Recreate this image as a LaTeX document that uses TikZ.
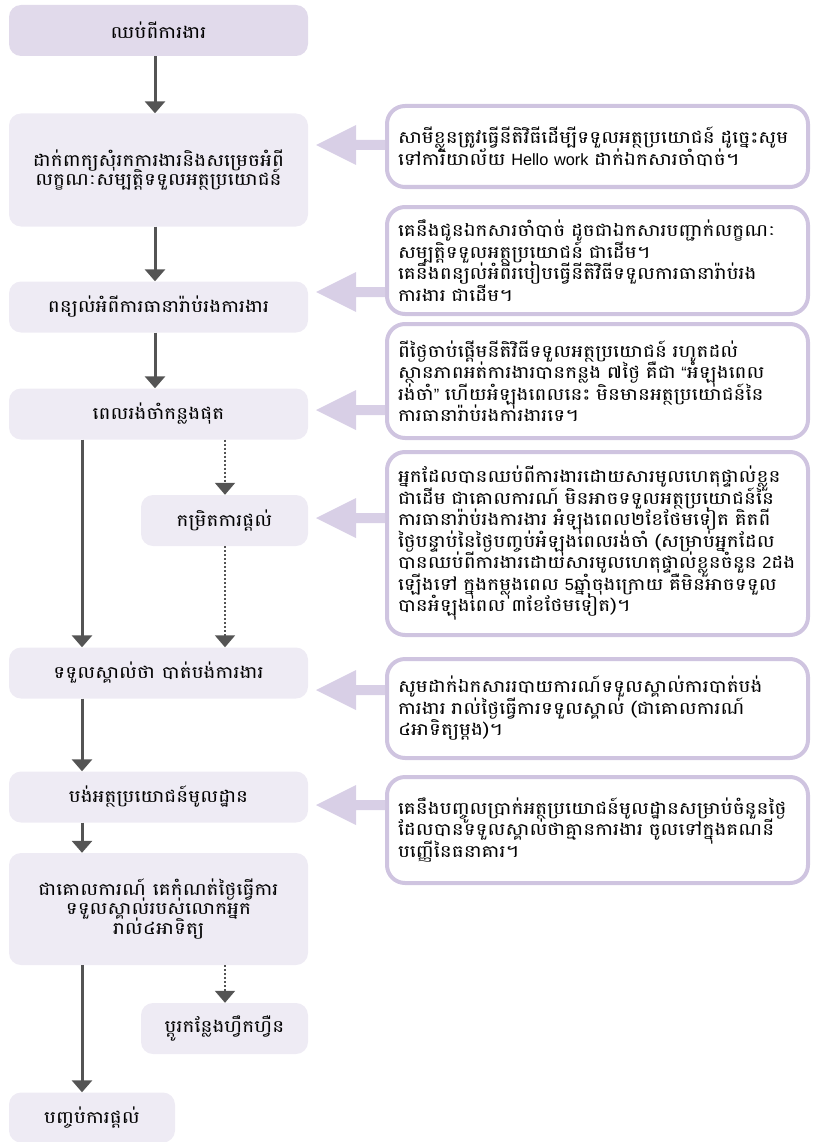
\documentclass[tikz,border=0pt]{standalone}
\usepackage{fontspec}
\usetikzlibrary{arrows.meta}
\usetikzlibrary{calc}
\newfontfamily\khmerfont[Script=Khmer, FakeStretch=1.18]{Battambang}
\newfontfamily\latinfont[Scale=0.96]{Liberation Sans}
\definecolor{pfeil}{RGB}{84,84,84}
\definecolor{stepdark}{RGB}{225,218,235}
\definecolor{steplight}{RGB}{238,235,244}
\definecolor{notebord}{RGB}{207,196,224}
\definecolor{pointer}{RGB}{216,207,230}

\tikzset{
  stepbox/.style={fill=steplight, rounded corners=12pt, minimum width=299pt, minimum height=51pt,
    align=center, inner xsep=4pt, inner ysep=0pt,
    font={\khmerfont\fontsize{17}{19.5}\selectfont\lineskiplimit=-100pt}},
  smallbox/.style={stepbox, minimum width=167pt},
  notebox/.style={draw=notebord, line width=4pt, fill=white, rounded corners=18pt, text width=399pt,
    inner xsep=11pt, inner ysep=0pt, align=left,
    font={\khmerfont\fontsize{17}{21.5}\selectfont\lineskiplimit=-100pt}},
  flow/.style={pfeil, line width=3pt, -{Triangle[width=20pt,length=12pt]}},
  maybe/.style={flow, line width=2pt, dash pattern=on 2pt off 2pt},
}

\begin{document}
\begin{tikzpicture}[x=1pt, y=-1pt]

    \useasboundingbox (0,0) rectangle (812,1142);

    % left column
    \node[stepbox, fill=stepdark] (quit) at (158.5,30.5) {ឈប់ពីការងារ};
    \node[stepbox, minimum height=113pt] (apply) at (158.5,170) {ដាក់ពាក្យសុំរកការងារនិងសម្រេចអំពី\\លក្ខណៈសម្បត្តិទទួលអត្ថប្រយោជន៍};
    \node[stepbox] (explain) at (158.5,307) {ពន្យល់អំពីការធានារ៉ាប់រងការងារ};
    \node[stepbox] (wait) at (158.5,414) {ពេលរង់ចាំកន្លងផុត};
    \node[smallbox] (limit) at (224.5,520.5) {កម្រិតការផ្តល់};
    \node[stepbox] (confirm) at (158.5,673) {ទទួលស្គាល់ថា បាត់បង់ការងារ};
    \node[stepbox] (pay) at (158.5,797) {បង់អត្ថប្រយោជន៍មូលដ្ឋាន};
    \node[stepbox, minimum height=112pt] (rule) at (158.5,909) {ជាគោលការណ៍ គេកំណត់ថ្ងៃធ្វើការ\\ទទួលស្គាល់របស់លោកអ្នក\\រាល់៤អាទិត្យ};
    \node[smallbox] (train) at (224.5,1028.5) {ប្តូរកន្លែងហ្វឹកហ្វឺន};
    \node[smallbox, minimum width=166pt, minimum height=50pt] (finish) at (92,1117.5) {បញ្ចប់ការផ្តល់};

    \coordinate (mid) at (155,0);
    \coordinate (left) at (82,0);
    \coordinate (right) at (225,0);

    \draw[flow] (quit.south -| mid) -- (apply.north -| mid);
    \draw[flow] (apply.south -| mid) -- (explain.north -| mid);
    \draw[flow] (explain.south -| mid) -- (wait.north -| mid);
    \draw[flow] (wait.south -| left) -- (confirm.north -| left);
    \draw[maybe] (wait.south -| right) -- (limit.north -| right);
    \draw[maybe] (limit.south -| right) -- (confirm.north -| right);
    \draw[flow] (confirm.south -| left) -- (pay.north -| left);
    \draw[flow] (pay.south -| left) -- (rule.north -| left);
    \draw[maybe] (rule.south -| right) -- (train.north -| right);
    \draw[flow] (rule.south -| left) -- (finish.north -| left);

    % notes on the right
    \node[notebox, minimum height=81pt] (n1) at (597.5,146.5) {សាមីខ្លួនត្រូវធ្វើនីតិវិធីដើម្បីទទួលអត្ថប្រយោជន៍ ដូច្នេះសូម\\ទៅការិយាល័យ {\latinfont Hello work} ដាក់ឯកសារចាំបាច់។};
    \node[notebox, minimum height=107pt] (n2) at (597.5,260.5) {គេនឹងជូនឯកសារចាំបាច់ ដូចជាឯកសារបញ្ជាក់លក្ខណៈ\\សម្បត្តិទទួលអត្ថប្រយោជន៍ ជាដើម។\\គេនឹងពន្យល់អំពីរបៀបធ្វើនីតិវិធីទទួលការធានារ៉ាប់រង\\ការងារ ជាដើម។};
    \node[notebox, minimum height=114pt] (n3) at (597.5,381) {ពីថ្ងៃចាប់ផ្តើមនីតិវិធីទទួលអត្ថប្រយោជន៍ រហូតដល់\\ស្ថានភាពអត់ការងារបានកន្លង ៧ថ្ងៃ គឺជា {\latinfont “}អំឡុងពេល\\រង់ចាំ{\latinfont ”} ហើយអំឡុងពេលនេះ មិនមានអត្ថប្រយោជន៍នៃ\\ការធានារ៉ាប់រងការងារទេ។};
    \node[notebox, minimum height=183pt] (n4) at (597.5,543.5) {អ្នកដែលបានឈប់ពីការងារដោយសារមូលហេតុផ្ទាល់ខ្លួន\\ជាដើម ជាគោលការណ៍ មិនអាចទទួលអត្ថប្រយោជន៍នៃ\\ការធានារ៉ាប់រងការងារ អំឡុងពេល២ខែថែមទៀត គិតពី\\ថ្ងៃបន្ទាប់នៃថ្ងៃបញ្ចប់អំឡុងពេលរង់ចាំ (សម្រាប់អ្នកដែល\\បានឈប់ពីការងារដោយសារមូលហេតុផ្ទាល់ខ្លួនចំនួន {\latinfont 2}ដង\\ឡើងទៅ ក្នុងកម្លុងពេល {\latinfont 5}ឆ្នាំចុងក្រោយ គឺមិនអាចទទួល\\បានអំឡុងពេល ៣ខែថែមទៀត)។};
    \node[notebox, minimum height=99pt] (n5) at (597.5,708.5) {សូមដាក់ឯកសាររបាយការណ៍ទទួលស្គាល់ការបាត់បង់\\ការងារ រាល់ថ្ងៃធ្វើការទទួលស្គាល់ (ជាគោលការណ៍\\៤អាទិត្យម្តង)។};
    \node[notebox, minimum height=106pt] (n6) at (597.5,830) {គេនឹងបញ្ចូលប្រាក់អត្ថប្រយោជន៍មូលដ្ឋានសម្រាប់ចំនួនថ្ងៃ\\ដែលបានទទួលស្គាល់ថាគ្មានការងារ ចូលទៅក្នុងគណនី\\បញ្ញើនៃធនាគារ។};

    % pointers from the notes
    \fill[pointer] (n1.west |- 0,145) ++(0,-5) -- ++(-29,0) -- ++(0,-15) -- ++(-40,20) -- ++(40,20) -- ++(0,-15) -- ++(29,0) -- cycle;
    \fill[pointer] (n2.west |- 0,292) ++(0,-5) -- ++(-29,0) -- ++(0,-15) -- ++(-40,20) -- ++(40,20) -- ++(0,-15) -- ++(29,0) -- cycle;
    \fill[pointer] (n3.west |- 0,410) ++(0,-5) -- ++(-29,0) -- ++(0,-15) -- ++(-40,20) -- ++(40,20) -- ++(0,-15) -- ++(29,0) -- cycle;
    \fill[pointer] (n4.west |- 0,518) ++(0,-5) -- ++(-29,0) -- ++(0,-15) -- ++(-40,20) -- ++(40,20) -- ++(0,-15) -- ++(29,0) -- cycle;
    \fill[pointer] (n5.west |- 0,690) ++(0,-5) -- ++(-29,0) -- ++(0,-15) -- ++(-40,20) -- ++(40,20) -- ++(0,-15) -- ++(29,0) -- cycle;
    \fill[pointer] (n6.west |- 0,805) ++(0,-5) -- ++(-29,0) -- ++(0,-15) -- ++(-40,20) -- ++(40,20) -- ++(0,-15) -- ++(29,0) -- cycle;

\end{tikzpicture}
\end{document}
